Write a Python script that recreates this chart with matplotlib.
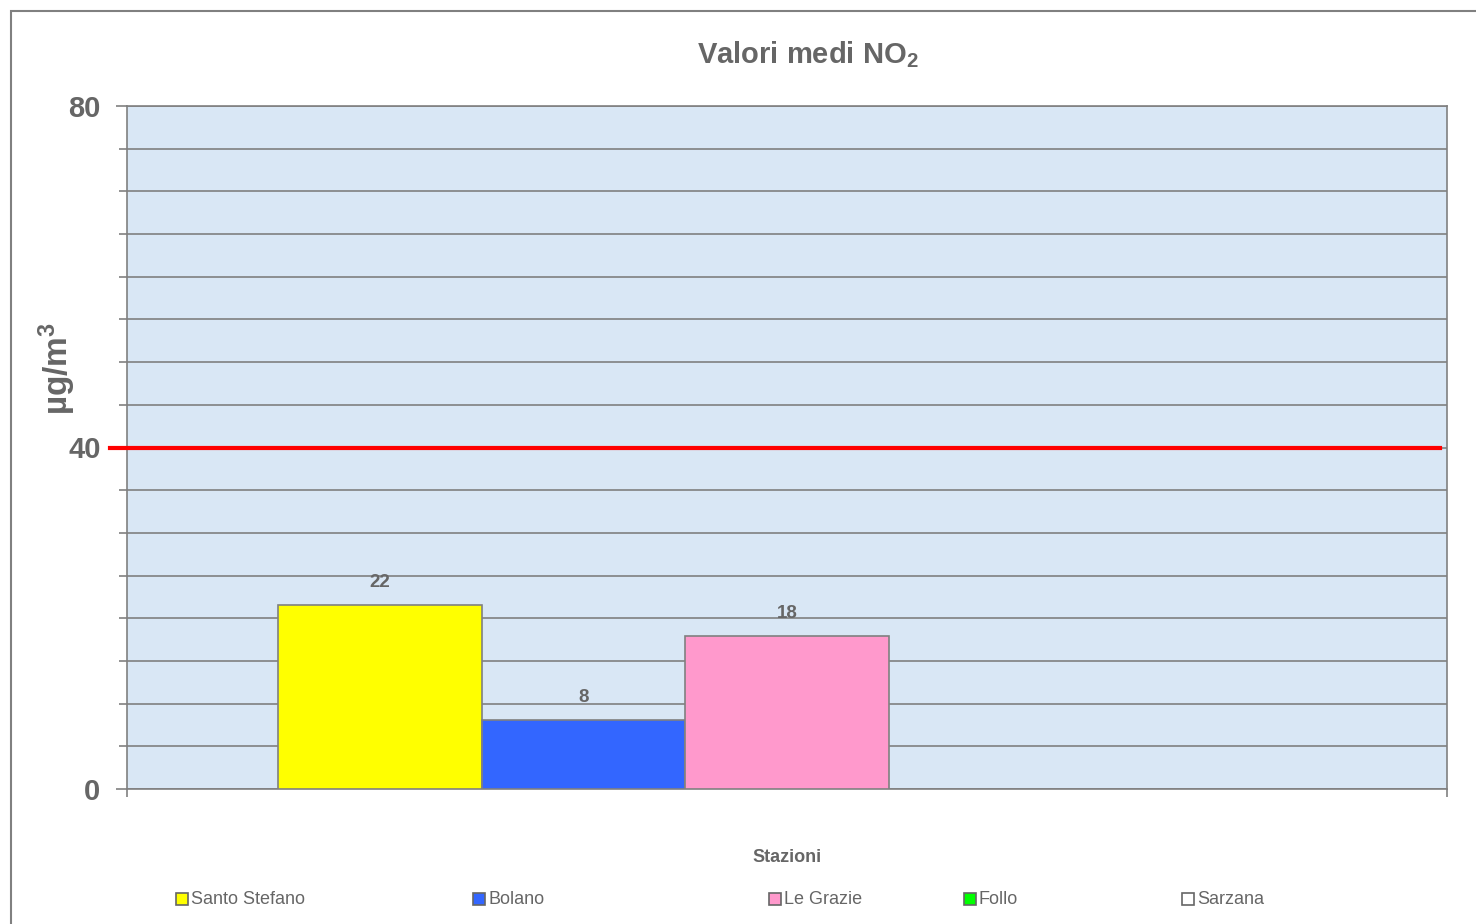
import numpy as np
import matplotlib
matplotlib.use('Agg')
import matplotlib.pyplot as plt
from matplotlib.patches import Rectangle

# Données
stazioni = ['Santo Stefano', 'Bolano', 'Le Grazie', 'Follo', 'Sarzana']
valori = [21.6, 8.1, 17.9, np.nan, np.nan]  # Follo e Sarzana senza dato
colori = ['#ffff00', '#3366ff', '#ff99cc', '#00ff00', '#ffffff']
limite = 40
y_ticks = [0, 40, 80]

plt.rcParams['font.family'] = ['Liberation Sans', 'DejaVu Sans']
plt.rcParams['mathtext.fontset'] = 'custom'
plt.rcParams['mathtext.rm'] = 'Liberation Sans:bold'
plt.rcParams['mathtext.it'] = 'Liberation Sans:bold'
plt.rcParams['mathtext.bf'] = 'Liberation Sans:bold'

grigio = '#666666'
linea = '#808080'

fig = plt.figure(figsize=(14.76, 9.24), dpi=100)
ax = fig.add_axes([127/1476, 1-789/924, 1320/1476, 683/924])
ax.set_facecolor('#d9e7f5')

# Barre (una categoria, cinque serie)
pos = np.arange(len(stazioni)) - 2
for x, v, c in zip(pos, valori, colori):
    if np.isnan(v):
        continue
    ax.bar(x, v, width=1.0, color=c, edgecolor=linea, linewidth=1.2, zorder=3)
    ax.annotate(f'{v:.0f}', (x, v), xytext=(0, 10), textcoords='offset points',
                ha='center', va='bottom', fontsize=13.5, fontweight='bold', color=grigio)

ax.set_xlim(-3.242, 3.242)
ax.set_ylim(0, 80)
ax.set_yticks(y_ticks)
ax.set_yticklabels([str(t) for t in y_ticks], fontsize=21, fontweight='bold', color=grigio)
ax.set_yticks(np.arange(0, 81, 5), minor=True)
ax.tick_params(axis='y', which='major', length=8, width=1.2, color=linea, pad=11)
ax.tick_params(axis='y', which='minor', length=6, width=1.2, color=linea)
ax.set_xticks([-3.242, 3.242])
ax.set_xticklabels([])
ax.tick_params(axis='x', length=6, width=1.2, color=linea)
ax.yaxis.grid(True, which='both', color=linea, linewidth=1.2, zorder=1)
ax.set_axisbelow(True)
for s in ax.spines.values():
    s.set_color(linea)
    s.set_linewidth(1.2)

# Valore limite
ax.plot([-0.0129, 0.9947], [limite, limite], color='#ff0000', linewidth=3,
        transform=ax.get_yaxis_transform(), clip_on=False, zorder=4)

# Testi
fig.text(808/1476, 1-55/924, 'Valori medi NO$_2$', ha='center', va='center',
         fontsize=21, fontweight='bold', color=grigio)
fig.text(57/1476, 1-368/924, 'µg/m$^3$', rotation=90, ha='center', va='center',
         fontsize=24, fontweight='bold', color=grigio)
fig.text(787/1476, 1-857/924, 'Stazioni', ha='center', va='center',
         fontsize=13, fontweight='bold', color=grigio)

# Legenda
leg_x = [176, 473, 769, 964, 1182]
for x, nome, c in zip(leg_x, stazioni, colori):
    fig.patches.append(Rectangle((x/1476, 1-905/924), 12/1476, 12/924, facecolor=c,
                                 edgecolor=grigio, linewidth=1.2, transform=fig.transFigure))
    fig.text((x+15)/1476, 1-899/924, nome, ha='left', va='center', fontsize=13, color=grigio)

# Bordo area grafico
fig.patches.append(Rectangle((11/1476, -0.1), 1.2, 1.1-11/924, fill=False,
                             edgecolor=linea, linewidth=1.5, transform=fig.transFigure))

fig.savefig('out.png', dpi=100)
